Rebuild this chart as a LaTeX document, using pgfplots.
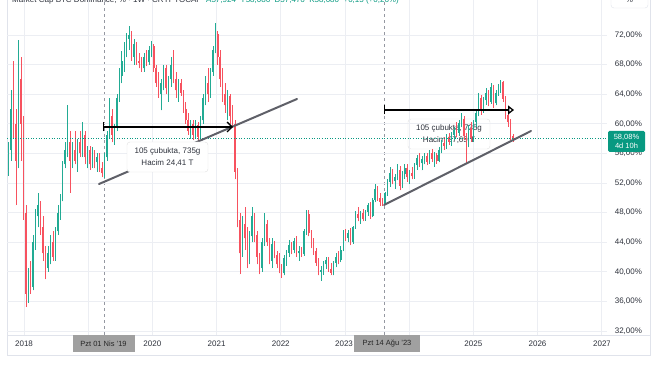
\documentclass[border=0pt]{standalone}
\usepackage{fontspec}
\setmainfont{Liberation Sans}
\usepackage{pgfplots}
\pgfplotsset{compat=1.18}
\usepackage{pgfplotstable}
\usetikzlibrary{arrows.meta}
\definecolor{upc}{HTML}{22AB94}
\definecolor{dnc}{HTML}{F7525F}
\definecolor{gridc}{HTML}{ECEEF3}
\definecolor{framec}{HTML}{E0E3EB}
\definecolor{labc}{HTML}{2E323C}
\definecolor{dashc}{HTML}{9598A1}
\definecolor{pricec}{HTML}{089981}
\definecolor{trendc}{HTML}{5F6068}
\definecolor{datec}{HTML}{A0A0A0}

\pgfplotstableread{
o h l c
54 57.5 53 56.5
56.5 64.5 55 62
62 68.5 58 60
60 62 49 55
55 71.3 54 66
66 69 55 60
60 61 47 48
48 49 35.3 37
37 40.5 35.8 39.5
39.5 41.5 37 38
38 45 37.5 44
44 48.5 43 47.5
47.5 50.6 46 49
49 49.5 45 46
46 47.5 41.5 42.5
42.5 43.5 39 40.5
40.5 43.5 40 42.5
42.5 45 41 44
44 45.5 41.5 42
42 46 41.5 45.5
45.5 49 45 48
48 50.5 47 50
50 55 49.5 54.5
54.5 57.5 54 56.5
56.5 62.5 55.5 57.5
57.5 59 50.7 55
55 57.5 54 56.5
56.5 59 54.5 55
55 58 53.5 57.5
57.5 59 55.5 56
56 60.2 55.5 58.5
58.5 59 54.5 55.5
55.5 57 54 56.5
56.5 57 53.8 54.5
54.5 56.8 54 56
56 56.5 54 54.8
54.8 56 53.5 55.5
55.5 56 53.5 54
54 54.8 52.8 53.3
53.3 56 52.7 55.5
55.5 59 55 58.5
58.5 63.5 58 61
61 62 57.5 58.5
58.5 60 57.2 59.5
59.5 64 59 63.5
63.5 67.5 63 66.5
66.5 69.8 65.5 68.5
68.5 71 67 70.5
70.5 72.3 69 71.5
71.5 73.2 70 72
72 72.5 68.5 69
69 71.5 68 70.8
70.8 71 68 68.5
68.5 69.5 67.5 68.2
68.2 69 67 67.5
67.5 69.5 67 69
69 70 67.8 68.3
68.3 70.5 68 70
70 71.2 69 70.5
70.5 70.8 67 67.5
67.5 68 65 65.5
65.5 67 63.5 64
64 66 61.8 65.5
65.5 68 64.5 67.5
67.5 68 64 64.8
64.8 66.5 63 66
66 69 65 68
68 70 65.5 66
66 67 63.5 64.5
64.5 66 63 65.5
65.5 66 63.8 64.2
64.2 64.5 61.5 62
62 63 60 60.5
60.5 61.5 58.5 59
59 60.5 58 60
60 60.5 57.8 58.5
58.5 60.5 58 59.8
59.8 60.3 57.3 58.2
58.2 61 58 60.5
60.5 64 60 63.5
63.5 66.5 62.5 65.5
65.5 67.5 63 64
64 67.5 63.5 67
67 70.5 66.5 70
70 73.6 69.5 72.2
72.2 72.5 68 69
69 70 65 66
66 67.5 63 64
64 65.5 61.5 62.5
62.5 64.5 60.5 63.8
63.8 64 60 61
61 62.5 59.5 60
60 60.5 52.5 53.5
53.5 54 46 47
47 48 39.7 42.5
42.5 47.5 42 46.5
46.5 48.7 43 44.5
44.5 46 40.5 41.5
41.5 45.5 41 44.8
44.8 48.7 44 47.5
47.5 48 44 45
45 45.5 41 42
42 42.5 39.7 40.5
40.5 44.5 40 44
44 47.9 43.5 46.5
46.5 47 43.5 44
44 44.5 41 41.5
41.5 44.5 40.5 43.8
43.8 44.2 41.8 42.3
42.3 42.8 40.5 41
41 42.5 39.8 40.2
40.2 41 39.2 39.8
39.8 42.3 39.5 41.8
41.8 43 40.8 42.6
42.6 44.3 42 43.6
43.6 44 42.4 43
43 44.6 42.5 44.2
44.2 44.8 42 42.5
42.5 43.5 41.5 42.8
42.8 43.4 42 42.4
42.4 45.8 42.2 45.5
45.5 48.3 45 47.8
47.8 48.3 44.8 45.2
45.2 45.6 43.2 43.8
43.8 44.5 42.3 42.8
42.8 43.2 40.8 41.2
41.2 41.8 39.5 40
40 40.8 38.8 40.3
40.3 41.5 39.6 41
41 42 40.4 41.6
41.6 42 40 40.4
40.4 41.2 39.5 39.9
39.9 41.5 39.5 41.2
41.2 42.5 40.6 42
42 42.8 41 41.6
41.6 43.5 41.3 43
43 45.6 42.8 45.2
45.2 45.8 44.2 44.6
44.6 45.7 44 45.3
45.3 45.9 43.6 44
44 46.2 43.8 46
46 48.2 45.8 47.8
47.8 48.7 46.8 47.3
47.3 48.2 46.5 47.9
47.9 48.5 46.8 47.1
47.1 48.4 46.9 48.1
48.1 49.3 47.6 49
49 49.4 47.2 47.6
47.6 50 47.4 49.7
49.7 51.9 49.4 51.2
51.2 51.6 49.6 50
50 50.6 48.9 49.4
49.4 50 48.9 49.2
49.2 50.8 49 50.6
50.6 52.5 50.3 52.2
52.2 54.1 51.5 53.4
53.4 53.9 51.8 52.3
52.3 53.2 51.2 52.8
52.8 54.6 52.4 53.8
53.8 54.3 51 51.6
51.6 53.6 51.3 53.2
53.2 54.6 52.6 54
54 54.5 52.2 52.8
52.8 53.7 51.9 53.3
53.3 54.2 52.5 52.9
52.9 54.7 52.6 54.4
54.4 55.8 53.8 55.4
55.4 56 54.2 54.7
54.7 55.6 53.7 55.2
55.2 56.1 54.5 55.6
55.6 56 54.4 54.9
54.9 56.5 54.6 56.1
56.1 56.6 54.9 55.3
55.3 56.2 54.2 55.8
55.8 56 54.6 55
55 56.8 54.8 56.4
56.4 57.8 56 57.4
57.4 58.2 56.5 57
57 58.6 56.6 58.2
58.2 58.8 57.2 57.6
57.6 58.9 57 58.5
58.5 59.5 57.8 59.2
59.2 60.2 58.2 58.8
58.8 60.5 58.4 60.1
60.1 61.4 59.5 60.6
60.6 61 57.8 58.3
58.3 58.8 54.6 57.2
57.2 59.8 56.8 59.4
59.4 60.2 57.6 58
58 60.5 57.6 60.2
60.2 61.8 59.6 61.4
61.4 64.2 61 63.5
63.5 63.9 61.2 61.8
61.8 63.6 61.5 63.2
63.2 64.8 62.6 64.2
64.2 64.6 62.4 63
63 65.5 62.7 65
65 65.3 62.2 62.8
62.8 64.6 62.5 64.2
64.2 65.4 63.8 65
65 65.9 64.2 65.6
65.6 65.8 63 63.4
63.4 63.8 60.6 61.2
61.2 61.6 59.6 60.2
60.2 60.6 57.8 58.3
58.3 58.6 57.6 58.08
}\btcd

\pgfplotsset{candle/.style={only marks, mark=*, mark size=0pt,
  mark options={draw=none, fill=none}, forget plot}}

\begin{document}
\begin{tikzpicture}
\path[use as bounding box, fill=white] (0pt,0pt) rectangle (654pt,366pt);
\begin{scope}[x=1pt,y=1pt]
\draw[framec, line width=0.8pt] (7,370) -- (7,11) -- (650,11) -- (650,370);
\draw[framec, line width=0.6pt] (7,31) -- (650,31);
\draw[dashc, dash pattern=on 3pt off 3pt, line width=0.6pt] (104,31) -- (104,366);
\draw[dashc, dash pattern=on 3pt off 3pt, line width=0.6pt] (384,31) -- (384,366);
\node[fill=white, fill opacity=0.85, text opacity=1, draw=black!12, rounded corners=3pt,
  minimum width=82pt, minimum height=30pt, inner sep=0pt, align=center, text=labc,
  font=\fontsize{8}{9.6}\selectfont] at (449,232) {105 çubukta, 735g\\[3pt]Hacim 27,69 T};
\end{scope}

\begin{axis}[at={(7pt,31pt)}, anchor=south west, width=600pt, height=335pt, scale only axis,
  xmin=2017.735, xmax=2027.081, ymin=31.46, ymax=76.73,
  axis line style={draw=none}, tick style={draw=none},
  grid=major, major grid style={color=gridc, line width=0.6pt},
  xtick={2018,2019,...,2027},
  xticklabels={2018,{},2020,2021,2022,{},2024,2025,2026,{}},
  xticklabel style={anchor=base, yshift=-12pt},
  ytick={32,36,...,72},
  yticklabels={{32,00\%},{36,00\%},{40,00\%},{44,00\%},{48,00\%},{52,00\%},{56,00\%},{60,00\%},{64,00\%},{68,00\%},{72,00\%}},
  yticklabel pos=right,
  yticklabel style={anchor=west, xshift=4.3pt},
  tick label style={text=labc, font=\fontsize{8}{9.6}\selectfont},
  unbounded coords=discard]
% up wicks
\addplot[candle,
  error bars/.cd, y dir=plus, y explicit, error mark=none,
  error bar style={draw=upc, line width=0.6pt}]
  table[x expr={2017.76+0.038329*\coordindex},
        y expr={\thisrow{c}>=\thisrow{o} ? \thisrow{l} : nan},
        y error plus expr={\thisrow{h}-\thisrow{l}}] {\btcd};
% up bodies
\addplot[candle,
  error bars/.cd, y dir=plus, y explicit, error mark=none,
  error bar style={draw=upc, line width=1.5pt}]
  table[x expr={2017.76+0.038329*\coordindex},
        y expr={\thisrow{c}>=\thisrow{o} ? \thisrow{o} : nan},
        y error plus expr={\thisrow{c}-\thisrow{o}}] {\btcd};
% down wicks
\addplot[candle,
  error bars/.cd, y dir=plus, y explicit, error mark=none,
  error bar style={draw=dnc, line width=0.6pt}]
  table[x expr={2017.76+0.038329*\coordindex},
        y expr={\thisrow{c}<\thisrow{o} ? \thisrow{l} : nan},
        y error plus expr={\thisrow{h}-\thisrow{l}}] {\btcd};
% down bodies
\addplot[candle,
  error bars/.cd, y dir=plus, y explicit, error mark=none,
  error bar style={draw=dnc, line width=1.5pt}]
  table[x expr={2017.76+0.038329*\coordindex},
        y expr={\thisrow{c}<\thisrow{o} ? \thisrow{c} : nan},
        y error plus expr={\thisrow{o}-\thisrow{c}}] {\btcd};
% last price line
\addplot[color=pricec, dash pattern=on 1pt off 1.6pt, line width=0.6pt, forget plot]
  coordinates {(2017.7,58.08) (2027.2,58.08)};
\end{axis}

\begin{scope}[x=1pt,y=1pt]
% trend lines
\draw[trendc, line width=2pt, line cap=round] (99,182) -- (297,267);
\draw[trendc, line width=2pt, line cap=round] (384,161) -- (531,235);
% arrows
\draw[black, line width=1.3pt, {Bar[width=9pt]}-{Straight Barb[length=5pt,width=10pt]}] (103,239) -- (233,239);
\draw[black, line width=1.3pt, {Bar[width=9pt]}-{Triangle[open,length=6pt,width=9pt]}] (384,256) -- (514,256);
% box 1
\node[fill=white, draw=black!12, rounded corners=3pt,
  minimum width=81pt, minimum height=30pt, inner sep=0pt, align=center, text=labc,
  font=\fontsize{8}{9.6}\selectfont] at (167.5,209) {105 çubukta, 735g\\[3pt]Hacim 24,41 T};
% price label
\node[fill=pricec, text=white, rounded corners=1.5pt, minimum width=37pt, minimum height=21pt,
  inner sep=0pt, align=center, font=\fontsize{7.5}{8.6}\selectfont] at (626.5,224.5) {58,08\%\\4d 10h};
% partly hidden year labels
\begin{scope}
\clip (300,12) rectangle (353.5,30);
\node[text=labc, anchor=base, font=\fontsize{8}{9.6}\selectfont] at (344,19) {2023};
\end{scope}
\begin{scope}
\clip (560,12) rectangle (609,30);
\node[text=labc, anchor=base, font=\fontsize{8}{9.6}\selectfont] at (602,19) {2027};
\end{scope}
% date labels
\node[fill=datec, text=black!85, minimum width=62pt, minimum height=17pt, inner sep=0pt,
  font=\fontsize{7.5}{9}\selectfont] at (103.5,22.5) {Pzt 01 Nis '19};
\node[fill=datec, text=black!85, minimum width=66pt, minimum height=17pt, inner sep=0pt,
  font=\fontsize{7.5}{9}\selectfont] at (387,22.5) {Pzt 14 Ağu '23};
% header (cut at top)
\node[anchor=base west, text=labc, font=\fontsize{8}{9.6}\selectfont, inner sep=0pt] at (12,363.5)
  {Market Cap BTC Dominance, \% · 1W · CRYPTOCAP \textcolor{pricec}{\ A57,924\ \ Y58,086\ \ D57,476\ \ K58,080\ \ +0,15 (+0,26\%)}};
% % box top right
\draw[framec, rounded corners=3pt, fill=white] (611,358) rectangle (648,375);
\node[text=labc, anchor=base, font=\fontsize{8}{9.6}\selectfont, inner sep=0pt] at (629.5,363.5) {\%};
\end{scope}
\end{tikzpicture}
\end{document}
